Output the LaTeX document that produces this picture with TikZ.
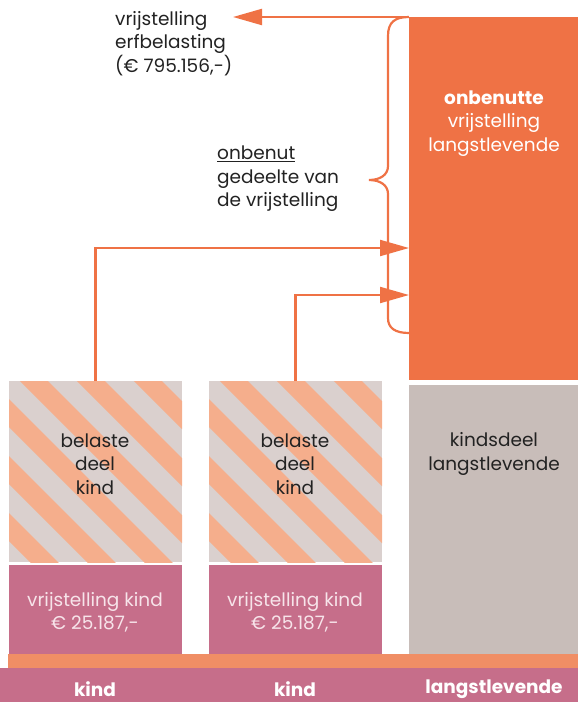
\documentclass[tikz,border=0pt]{standalone}
\usepackage{fontspec}
\setmainfont{Poppins}
\usetikzlibrary{arrows.meta}
\definecolor{orng}{HTML}{EF7245}
\definecolor{peach}{HTML}{F5AE8C}
\definecolor{sgray}{HTML}{DAD0CE}
\definecolor{dgray}{HTML}{C8BDB9}
\definecolor{pnk}{HTML}{C66E8A}
\definecolor{band}{HTML}{F08E65}
\definecolor{txt}{HTML}{222222}
\definecolor{ltxt}{HTML}{F7E4EA}
\begin{document}
\begin{tikzpicture}[x=1pt,y=-1pt,
  lbl/.style={font=\fontsize{18.5}{23.5}\selectfont, text=txt, inner sep=0pt},
  blbl/.style={text=white, inner sep=0pt, font=\fontsize{18.5}{20}\selectfont\bfseries},
  arr/.style={draw=orng, line width=2.2pt, -{Triangle[length=29pt,width=16pt]}},
  brc/.style={draw=orng, line width=2.2pt},
  box/.style={inner sep=0pt, outer sep=0pt, anchor=north west}]
\useasboundingbox (0,0) rectangle (578,702);
% big orange box
\node[box, fill=orng, minimum width=169pt, minimum height=363pt] (onb) at (409,17) {};
\node[box, fill=dgray, minimum width=169pt, minimum height=269pt] (kd) at (409,385) {};
% striped boxes
\foreach \bx/\nm in {9/s1,209/s2}{
  \node[box, fill=sgray, minimum width=173pt, minimum height=181pt] (\nm) at (\bx,381) {};
  \begin{scope}
    \clip (\bx,381) rectangle ++(173,181);
    \foreach \k in {-5,...,4}{
      \fill[peach] ({\bx+11+57*\k-10},371) -- ({\bx+39+57*\k-10},371) -- ({\bx+39+57*\k+200},581) -- ({\bx+11+57*\k+200},581) -- cycle;
    }
  \end{scope}
}
\node[lbl, align=center] (t1) at (95,464) {belaste\\deel\\kind};
\node[lbl, align=center] (t2) at (295,464) {belaste\\deel\\kind};
% pink boxes
\node[box, fill=pnk, minimum width=173pt, minimum height=89pt] (p1) at (9,565) {};
\node[box, fill=pnk, minimum width=173pt, minimum height=89pt] (p2) at (209,565) {};
\node[lbl, text=ltxt, align=center] (pt1) at (95,612.5) {vrijstelling kind\\€ 25.187,-};
\node[lbl, text=ltxt, align=center] (pt2) at (295,612.5) {vrijstelling kind\\€ 25.187,-};
% bands
\node[box, fill=band, minimum width=570pt, minimum height=14pt] (ob) at (8,654) {};
\node[box, fill=pnk, minimum width=578pt, minimum height=35pt] (pb) at (0,668) {};
\node[blbl] (k1) at (95,689) {kind};
\node[blbl] (k2) at (295,689) {kind};
\node[blbl] (k3) at (494,689) {langstlevende};
% texts
\node[lbl, text=white, align=center] (ot) at (494,123.5) {\textbf{onbenutte}\\vrijstelling\\langstlevende};
\node[lbl, align=center] (kt) at (494,454) {kindsdeel\\langstlevende};
\node[lbl, align=left, anchor=west] (vr) at (115,43.5) {vrijstelling\\erfbelasting\\(€ 795.156,-)};
\node[lbl, align=left, anchor=west] (on) at (217,179) {\underline{onbenut}\\gedeelte van\\de vrijstelling};
% connectors
\coordinate (c0) at (409,17);
\coordinate (c1) at (409,248);
\coordinate (c2) at (409,295);
\coordinate (tip) at (233,17);
\draw[arr] (c0) -- (tip);
\draw[arr] (s1.north) |- (c1);
\draw[arr] (s2.north) |- (c2);
\draw[brc] (c0) .. controls (395,17) and (388,22) .. (388,36) -- (388,166)
  .. controls (388,175) and (380,180) .. (369,180)
  .. controls (380,180) and (388,185) .. (388,194) -- (388,318)
  .. controls (388,328) and (395,333) .. (409,333);
\end{tikzpicture}
\end{document}
